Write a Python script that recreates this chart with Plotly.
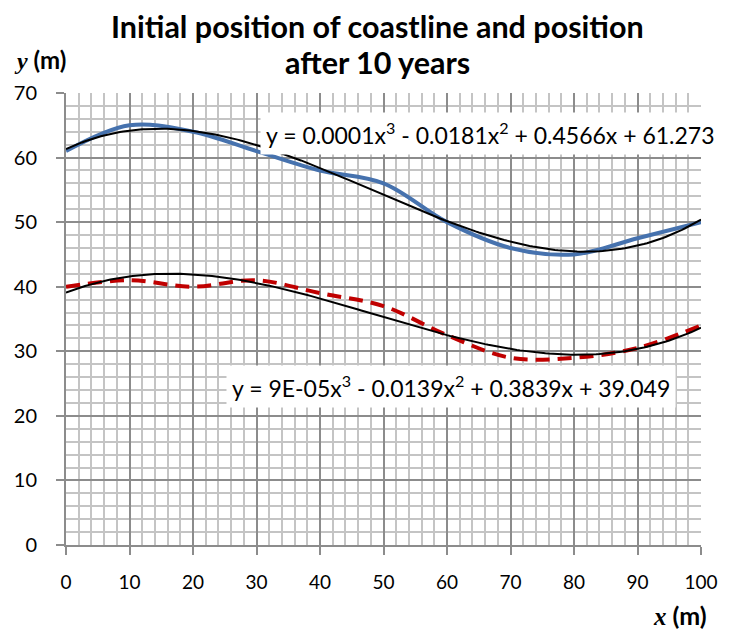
import numpy as np
import plotly.graph_objects as go

# Data
x_pos = [0, 10, 20, 30, 40, 50, 60, 70, 80, 90, 100]
y_initial = [61, 65, 64, 61, 58, 56, 50, 46, 45, 47.5, 50]
y_after = [40, 41, 40, 41, 39, 37, 32.5, 29, 29, 30.5, 34]
x_ticks = [0, 10, 20, 30, 40, 50, 60, 70, 80, 90, 100]
y_ticks = [0, 10, 20, 30, 40, 50, 60, 70]

eq_initial = "y = 0.0001x<sup>3</sup> - 0.0181x<sup>2</sup> + 0.4566x + 61.273"
eq_after = "y = 9E-05x<sup>3</sup> - 0.0139x<sup>2</sup> + 0.3839x + 39.049"

# cubic trendlines (as in the spreadsheet) fitted to the data
xf = np.linspace(0, 100, 201)
fit_i = np.polyval(np.polyfit(x_pos, y_initial, 3), xf)
fit_a = np.polyval(np.polyfit(x_pos, y_after, 3), xf)

FONT = "Lato"
fig = go.Figure()
fig.add_trace(go.Scatter(x=x_pos, y=y_initial, mode="lines",
                         line=dict(color="#4672AE", width=4, shape="spline", smoothing=1),
                         showlegend=False))
fig.add_trace(go.Scatter(x=x_pos, y=y_after, mode="lines",
                         line=dict(color="#C00000", width=4, shape="spline", smoothing=1,
                                   dash="14px,8px"),
                         showlegend=False))
fig.add_trace(go.Scatter(x=xf, y=fit_i, mode="lines",
                         line=dict(color="black", width=2), showlegend=False))
fig.add_trace(go.Scatter(x=xf, y=fit_a, mode="lines",
                         line=dict(color="black", width=2), showlegend=False))

grid_major = "#8c8c8c"
grid_minor = "#c4c4c4"
fig.update_xaxes(range=[0, 100], tickvals=x_ticks, ticktext=[str(v) for v in x_ticks],
                 showgrid=True, gridcolor=grid_major, gridwidth=2,
                 minor=dict(dtick=2, tick0=0, showgrid=True, gridcolor=grid_minor, gridwidth=1.5),
                 showline=True, linecolor=grid_major, linewidth=2,
                 ticks="outside", ticklen=8, tickwidth=2, tickcolor=grid_major,
                 ticklabelstandoff=11, zeroline=False, automargin=False,
                 tickfont=dict(family=FONT, size=19, color="black"))
fig.update_yaxes(range=[0, 70], tickvals=y_ticks, ticktext=[str(v) for v in y_ticks],
                 showgrid=True, gridcolor=grid_major, gridwidth=2,
                 minor=dict(dtick=2, tick0=0, showgrid=True, gridcolor=grid_minor, gridwidth=1.5),
                 showline=True, linecolor=grid_major, linewidth=2,
                 ticks="outside", ticklen=8, tickwidth=2, tickcolor=grid_major,
                 ticklabelstandoff=15, zeroline=False, automargin=False,
                 tickfont=dict(family=FONT, size=20, color="black"))

# page has an 8px body margin: work in page pixels, convert to figure pixels
OFF = 8
W, H = 736 - OFF, 630 - OFF
L, R, T, B = 66 - OFF, 35, 93 - OFF, 85
pw, ph = W - L - R, H - T - B

def page(px, py):
    return (px - OFF - L) / pw, (H - B - (py - OFF)) / ph

annots = [
    dict(x=66.9, y=63.8, xref="x", yref="y", text=eq_initial, showarrow=False,
         bgcolor="white", borderpad=5, font=dict(family=FONT, size=23, color="black")),
    dict(x=60.6, y=24.5, xref="x", yref="y", text=eq_after, showarrow=False,
         bgcolor="white", borderpad=5, font=dict(family=FONT, size=23, color="black")),
]
for px, py, txt, size in [
    (377, 26, "<b>Initial position of coastline and position</b>", 30.5),
    (377, 62, "<b>after 10 years</b>", 30.5),
    (40, 59, "<b><span style='font-family:Liberation Serif'><i>y</i></span> (m)</b>", 24),
    (680, 615, "<b><span style='font-family:Liberation Serif'><i>x</i></span> (m)</b>", 25),
]:
    xp, yp = page(px, py)
    annots.append(dict(x=xp, y=yp, xref="paper", yref="paper", text=txt, showarrow=False,
                       xanchor="center", yanchor="middle",
                       font=dict(family=FONT, size=size, color="black")))

fig.update_layout(width=W, height=H, margin=dict(l=L, r=R, t=T, b=B),
                  plot_bgcolor="white", paper_bgcolor="white",
                  annotations=annots, showlegend=False)
fig.write_html("out.html")
